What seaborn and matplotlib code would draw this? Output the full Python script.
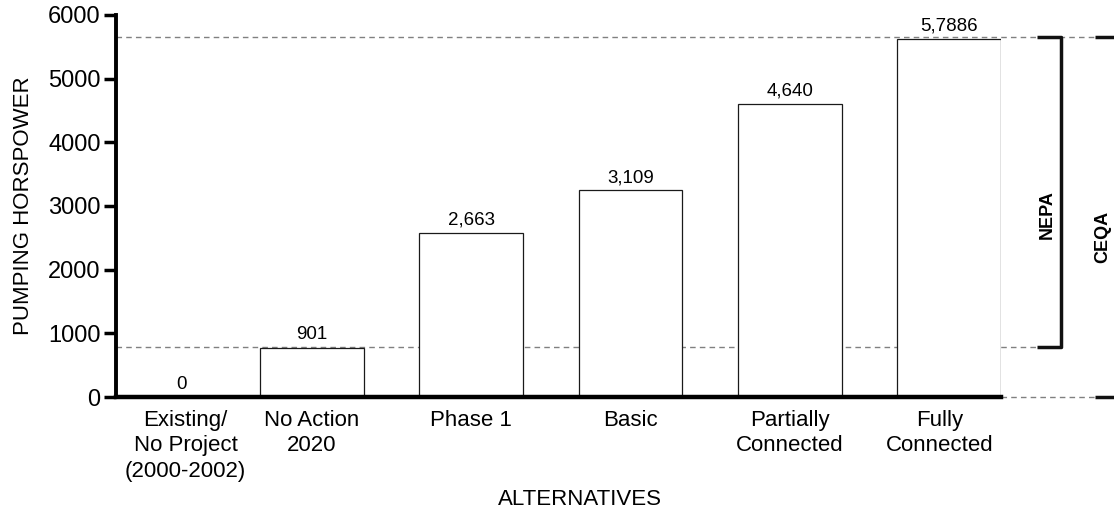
import matplotlib
matplotlib.use("Agg")
import matplotlib.pyplot as plt
import matplotlib.transforms as mtransforms
import seaborn as sns
import pandas as pd

categories = ["Existing/\nNo Project\n(2000-2002)", "No Action\n2020", "Phase 1",
              "Basic", "Partially\nConnected", "Fully\nConnected"]
values = [0, 775, 2575, 3245, 4605, 5625]
value_labels = ["0", "901", "2,663", "3,109", "4,640", "5,7886"]
yticks = [0, 1000, 2000, 3000, 4000, 5000, 6000]
nepa_low = 780
nepa_high = 5650

sns.set_theme(style="white")
plt.rcParams['font.family'] = ['Liberation Sans', 'DejaVu Sans']
for k in ["text.color", "axes.labelcolor", "xtick.color", "ytick.color"]:
    plt.rcParams[k] = "black"

df = pd.DataFrame({"alt": categories, "hp": values})

fig = plt.figure(figsize=(11.14, 5.12), dpi=100)
ax = fig.add_axes([0.104, 0.2246, 0.7946, 0.7464])

sns.barplot(data=df, x="alt", y="hp", color="white", saturation=1,
            edgecolor="#1a1a1a", linewidth=0.9, width=0.65, ax=ax)

anns = ax.bar_label(ax.containers[0], labels=value_labels, padding=3, fontsize=13.5)
anns[0].xyann = (21, 3)

x0, x1 = -0.23, 5.325
ax.set_xlim(x0, x1)
ax.set_ylim(0, 6000)
ax.set_yticks(yticks)
ax.set_yticklabels([str(t) for t in yticks], fontsize=17)
ax.tick_params(axis="y", direction="out", length=9, width=2.5, pad=2, left=True)
ax.tick_params(axis="x", length=0, pad=9, labelsize=16)
xlabs = ax.get_xticklabels()
for lab in xlabs:
    lab.set_linespacing(1.3)
    lab.set_verticalalignment("top")
xlabs[0].set_transform(xlabs[0].get_transform() +
                       mtransforms.ScaledTranslation(0.33, 0, fig.dpi_scale_trans))
xlabs[5].set_transform(xlabs[5].get_transform() +
                       mtransforms.ScaledTranslation(-0.10, 0, fig.dpi_scale_trans))

for s in ["top", "right"]:
    ax.spines[s].set_visible(False)
ax.spines["left"].set_linewidth(2.8)
ax.spines["bottom"].set_linewidth(3.2)
ax.spines["left"].set_color("black")
ax.spines["bottom"].set_color("black")

ax.set_xlabel("ALTERNATIVES", fontsize=16, labelpad=5)
ax.xaxis.label.set_x(0.524)
ax.set_ylabel("PUMPING HORSPOWER", fontsize=16, labelpad=10)

dash = dict(color="#808080", lw=1.0, linestyle=(0, (4, 3)), clip_on=False, zorder=0.5)
nx0, nx1 = 5.552, 5.702
cx0, cx1 = 5.916, 6.2
ax.plot([x0, cx0], [nepa_high, nepa_high], **dash)
ax.plot([x0, nx0], [nepa_low, nepa_low], **dash)
ax.plot([x1, cx0], [0, 0], **dash)

solid = dict(color="#111111", lw=2.5, clip_on=False, solid_capstyle="butt")
ax.plot([nx0, nx1, nx1, nx0], [nepa_high, nepa_high, nepa_low, nepa_low], **solid)
ax.plot([cx0, cx1, cx1, cx0], [nepa_high, nepa_high, 0, 0], **solid)

ax.text(5.614, 2860, "NEPA", rotation=90, ha="center", va="center",
        fontsize=13, fontweight="bold")
ax.text(5.966, 2515, "CEQA", rotation=90, ha="center", va="center",
        fontsize=13, fontweight="bold")

fig.savefig("out.png", dpi=100)
